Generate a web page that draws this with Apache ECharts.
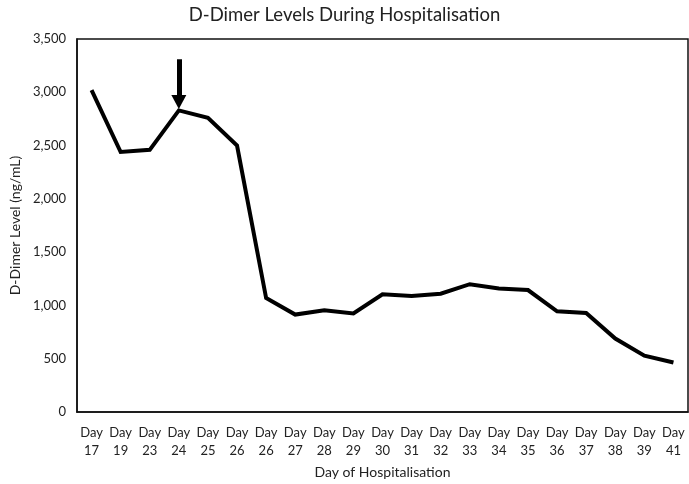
<!DOCTYPE html>
<html><head><meta charset="utf-8">
<script src="https://cdn.jsdelivr.net/npm/echarts@6/dist/echarts.min.js"></script>
<style>html,body{margin:0;padding:0;background:#fff}#c{width:689px;height:484px}</style>
</head><body><div id="c"></div>
<script>
const categories = ['Day 17','Day 19','Day 23','Day 24','Day 25','Day 26','Day 26','Day 27','Day 28','Day 29','Day 30','Day 31','Day 32','Day 33','Day 34','Day 35','Day 36','Day 37','Day 38','Day 39','Day 41'];
const dDimer = [3020,2440,2460,2830,2760,2500,1070,915,955,925,1105,1090,1110,1200,1160,1145,945,930,690,530,465];
const arrowCategoryIndex = 3;
const arrowFrom = 3310;
const arrowTo = 2910;
const yTicks = {min:0, max:3500, interval:500};

const font = 'Lato, "Open Sans", sans-serif';
const chart = echarts.init(document.getElementById('c'));
chart.setOption({
  animation:false,
  title:{text:'D-Dimer Levels During Hospitalisation', left:'center', top:1,
    textStyle:{fontFamily:font, fontSize:18.5, fontWeight:'normal', color:'#222'}},
  grid:{left:64, right:1, top:39, bottom:66, show:true, borderColor:'#111', borderWidth:1.5, backgroundColor:'transparent'},
  xAxis:{type:'category', data:categories, boundaryGap:true,
    name:'Day of Hospitalisation', nameLocation:'middle', nameGap:47,
    nameTextStyle:{fontFamily:font, fontSize:14, color:'#222'},
    axisLine:{lineStyle:{color:'#111', width:1.5}}, axisTick:{show:false},
    axisLabel:{interval:0, margin:12, fontFamily:font, fontSize:13, color:'#222', lineHeight:18,
      formatter:v=>v.replace(' ','\n')}},
  yAxis:{type:'value', min:yTicks.min, max:yTicks.max, interval:yTicks.interval,
    name:'D-Dimer Level (ng/mL)', nameLocation:'middle', nameGap:50,
    nameTextStyle:{fontFamily:font, fontSize:14, color:'#222'},
    splitLine:{show:false}, axisTick:{show:false},
    axisLine:{show:true, lineStyle:{color:'#111', width:1.5}},
    axisLabel:{margin:11, fontFamily:font, fontSize:13, color:'#222',
      formatter:v=>v.toLocaleString('en-US')}},
  series:[{type:'line', data:dDimer, symbol:'none',
    lineStyle:{color:'#000', width:4, join:'miter'},
    markLine:{silent:true, symbol:['none','triangle'], symbolSize:[15,14], symbolRotate:180,
      label:{show:false},
      lineStyle:{color:'#000', width:5, type:'solid'},
      data:[[{coord:[arrowCategoryIndex, arrowFrom]},{coord:[arrowCategoryIndex, arrowTo]}]]}}]
});
</script></body></html>
